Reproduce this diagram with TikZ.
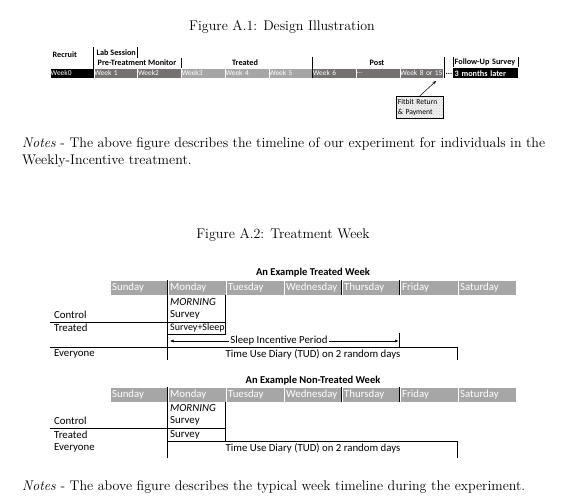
\documentclass[tikz,border=0pt]{standalone}
\usepackage{fontspec}
\newfontfamily\calibri{Carlito}
\usepackage{tikz}
\usetikzlibrary{arrows.meta,positioning,calc,patterns}
\definecolor{weekdark}{RGB}{118,113,113}
\definecolor{weeklight}{RGB}{166,166,166}
\definecolor{daygrey}{RGB}{166,166,166}
\newcommand{\wkdots}{...}

\begin{document}
\begin{tikzpicture}[x=1pt,y=-1pt,
    weekcell/.style={anchor=north west, minimum height=10pt, text width=42.7pt, inner xsep=0.5pt, inner ysep=0pt,
      text=white, draw=white, line width=0.4pt, align=left, font=\calibri\fontsize{7.4}{9}\selectfont},
    daycell/.style={anchor=north west, minimum height=15pt, text width=53pt, inner xsep=2.5pt, inner ysep=0pt,
      fill=daygrey, text=white, draw=white, line width=0.4pt, align=left, font=\calibri\fontsize{10.8}{12}\selectfont},
    hd/.style={font=\calibri\bfseries\fontsize{8.2}{9}\selectfont, inner sep=0.5pt},
    row/.style={anchor=west, inner sep=0pt, font=\calibri\fontsize{10.8}{12}\selectfont},
    caption/.style={font=\fontsize{14}{17}\selectfont},
    notes/.style={anchor=west, inner sep=0pt, font=\fontsize{14}{17}\selectfont},
    rule/.style={line width=0.8pt},
    bar/.style={line width=1.3pt}]
  \useasboundingbox (0,0) rectangle (562,500);

  % Figure A.1
  \node[caption] (capA) at (282,27) {Figure A.1: Design Illustration};
  \foreach \lab/\col [count=\k from 0] in {Week0/black, Week 1/weekdark, Week2/weekdark, Week3/weeklight,
      Week 4/weeklight, Week 5/weeklight, Week 6/weekdark, \wkdots/weekdark, Week 8 or 15/weekdark}
    \node[weekcell, fill=\col] (w\k) at ({50+43.7*\k},68) {\mbox{\lab}};
  \node[hd, anchor=west] (recruit) at (52,55) {Recruit};
  \node[hd, anchor=west] (lab) at (96,53) {Lab Session};
  \node[hd] (pretreat) at (137,63) {Pre-Treatment Monitor};
  \node[hd] (treatedhd) at (245,63) {Treated};
  \node[hd] (posthd) at (377,63) {Post};
  % phase separators
  \draw[bar] (w1.south west) -- ++(0,-31);
  \draw[bar] (w2.north west) ++(0,-10) -- ++(0,-11);
  \draw[line width=0.6pt] (w3.north west) -- ++(0,-10);
  \draw[line width=0.8pt] (w6.south west) -- ++(0,-21);
  \draw[line width=1.6pt] (w8.south east) ++(0.8,0) -- ++(0,-21);
  \node[hd] (gap) at (449,74) {\wkdots};
  % follow-up
  \node[hd, anchor=north west, minimum height=10pt, text width=62pt, inner xsep=1.5pt, inner ysep=0pt, align=left] (fusurvey) at (453,57) {Follow-Up Survey};
  \draw[line width=1pt] (fusurvey.north west) -- (fusurvey.south west);
  \draw[line width=1pt] (fusurvey.north east) -- (fusurvey.south east);
  \node[hd, anchor=north west, minimum height=10pt, text width=62pt, inner xsep=1.5pt, inner ysep=0pt, align=left,
    fill=black, text=white] (fulater) at (453,68) {3 months later};
  % fitbit return
  \node[anchor=north west, draw, line width=0.6pt, text width=44pt, minimum height=22pt, inner sep=1.5pt, align=left,
    font=\calibri\fontsize{7.6}{9.5}\selectfont, preaction={fill=gray!12}, pattern=crosshatch dots, pattern color=gray!45]
    (fitbit) at (396,96) {Fitbit Return\\\& Payment};
  \coordinate (fittip) at (436,81);
  \draw[-{Stealth[length=3.5pt,width=3pt]}, line width=0.5pt] (fitbit.north) -- (fittip);

  \node[notes] (notes1) at (22,144) {\makebox[523pt][s]{\textit{Notes} - The above figure describes the timeline of our experiment for individuals in the}};
  \node[notes] (notes2) at (22,161) {Weekly-Incentive treatment.};

  % Figure A.2
  \node[caption] (capB) at (283,235) {Figure A.2: Treatment Week};

  % treated week
  \node[font=\calibri\bfseries\fontsize{10.5}{12}\selectfont] (ttitle) at (313,273) {An Example Treated Week};
  \foreach \d [count=\k from 0] in {Sunday,Monday,Tuesday,Wednesday,Thursday,Friday,Saturday}
    \node[daycell] (td\k) at ({109.5+58*\k},280) {\d};
  \draw[line width=0.6pt] (td4.north west) -- (td4.south west);
  \draw[line width=0.6pt] (td5.north west) -- (td5.south west);
  \node[row, font=\calibri\itshape\fontsize{10.8}{12}\selectfont] (tmorning) at (170,302) {MORNING};
  \node[row] (tcontrol) at (54,315) {Control};
  \node[row] (tsurvey) at (170,315) {Survey};
  \node[row] (ttreated) at (54,328) {Treated};
  \node[row, font=\calibri\fontsize{10}{11}\selectfont] (tsleep) at (170,328) {Survey+Sleep};
  \node[row] (teveryone) at (54,354) {Everyone};
  \node[row, anchor=center] (ttud) at (313,354) {Time Use Diary (TUD) on 2 random days};
  \draw[rule] (50,322) -- (td2.south west |- 0,322);
  \draw[rule] (td1.south west |- 0,334) -- (td2.south west |- 0,334);
  \draw[rule] (td2.south west) -- ++(0,39);
  \draw[rule] (50,347) -- (td6.south west |- 0,347);
  \draw[bar] (td6.south west |- 0,347) -- ++(0,13);
  % incentive period
  \node[row, anchor=center, inner sep=1pt] (tperiod) at (279,341) {Sleep Incentive Period};
  \coordinate (tperiodL) at (170,341);
  \coordinate (tperiodR) at (398.5,341);
  \draw[-{Latex[length=3.5pt,width=3pt]}, line width=0.5pt] (tperiod.west) -- (tperiodL);
  \draw[-{Latex[length=3.5pt,width=3pt]}, line width=0.5pt] (tperiod.east) -- (tperiodR);
  \draw[bar] (td5.south west |- 0,333) -- ++(0,15);
  \draw[bar] (td1.north west) -- ++(0,80);

  % non-treated week
  \node[font=\calibri\bfseries\fontsize{10.5}{12}\selectfont] (ntitle) at (313,381) {An Example Non-Treated Week};
  \foreach \d [count=\k from 0] in {Sunday,Monday,Tuesday,Wednesday,Thursday,Friday,Saturday}
    \node[daycell] (nd\k) at ({109.5+58*\k},387) {\d};
  \draw[line width=0.6pt] (nd4.north west) -- (nd4.south west);
  \draw[line width=0.6pt] (nd5.north west) -- (nd5.south west);
  \node[row, font=\calibri\itshape\fontsize{10.8}{12}\selectfont] (nmorning) at (170,408) {MORNING};
  \node[row] (ncontrol) at (54,421) {Control};
  \node[row] (nsurvey) at (170,421) {Survey};
  \node[row] (ntreated) at (54,435) {Treated};
  \node[row] (nsurveyb) at (170,435) {Survey};
  \node[row] (neveryone) at (54,448) {Everyone};
  \node[row, anchor=center] (ntud) at (313,448) {Time Use Diary (TUD) on 2 random days};
  \draw[rule] (50,428) -- (nd2.south west |- 0,428);
  \draw[rule] (nd1.south west |- 0,441) -- (nd6.south west |- 0,441);
  \draw[rule] (nd2.south west) -- ++(0,39);
  \draw[bar] (nd6.south west |- 0,441) -- ++(0,17);
  \draw[bar] (nd1.north west) -- ++(0,71);

  \node[notes] (notes3) at (22,487) {\textit{Notes} - The above figure describes the typical week timeline during the experiment.};
\end{tikzpicture}
\end{document}
